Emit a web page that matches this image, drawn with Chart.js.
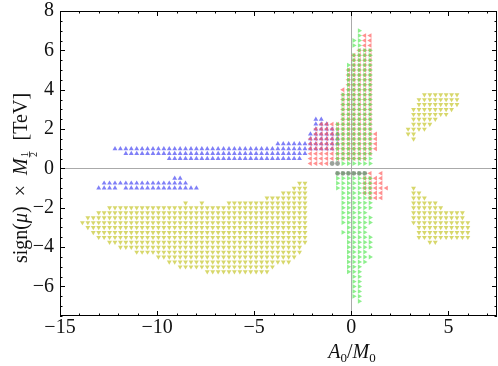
<!DOCTYPE html>
<html>
<head>
<meta charset="utf-8">
<script src="https://cdn.jsdelivr.net/npm/chart.js@4.4.0/dist/chart.umd.min.js"></script>
<style>
  html, body { margin: 0; padding: 0; background: #fff; }
  #wrap { width: 498px; height: 366px; }
</style>
</head>
<body>
<div id="wrap"><canvas id="grafico" width="498" height="366"></canvas></div>
<script>
// scan grid: A0/M0 columns and M1/2 rows (TeV)
const X0 = -0.43, DX = 0.2795;

const xTicks = [-15, -10, -5, 0, 5];
const yTicks = [-6, -4, -2, 0, 2, 4, 6, 8];

// rows: [M1/2, first A0/M0, last A0/M0]
const blueRows = [
  [2.5, -1.83, -1.55], [2.25, -1.83, -1.27], [2.0, -1.83, -0.99],
  [1.75, -2.11, -0.71], [1.5, -2.11, -0.71], [1.25, -3.78, -0.71],
  [1.0, -12.09, -0.99], [0.75, -11.52, -2.39], [0.5, -9.26, -2.8],
  [-0.5, -9.03, -8.74], [-0.75, -12.64, -8.43],
  [-1.0, -12.94, -12.1], [-1.0, -11.52, -7.91]
];

const redRows = [
  [6.75, 0.69, 0.97], [6.5, 0.69, 0.97], [6.25, 0.69, 0.97], [6.0, 0.41, 0.97],
  [5.75, 0.13, 0.97], [5.5, 0.13, 0.97], [5.25, 0.13, 0.97],
  [5.0, -0.15, 0.97], [4.75, -0.15, 0.97], [4.5, -0.15, 0.97], [4.25, -0.15, 0.97],
  [4.0, -0.43, 0.97], [3.75, -0.43, 0.97], [3.5, -0.43, 0.97], [3.25, -0.43, 0.97],
  [3.0, -0.43, 0.97], [2.75, -0.43, 0.97], [2.5, -0.43, 0.97],
  [2.25, -1.55, 0.97], [2.0, -1.83, 0.97], [1.75, -1.83, 1.25], [1.5, -2.11, 1.25],
  [1.25, -2.11, 1.25], [1.0, -2.11, 1.25], [0.75, -2.11, 0.97], [0.5, -2.11, 0.69],
  [0.25, -2.11, -1.27],
  [-0.25, 0.97, 0.97], [-0.25, 1.53, 1.53], [-0.5, 0.69, 1.53], [-0.75, 0.69, 1.53],
  [-1.0, 0.69, 1.81], [-1.25, 0.69, 1.53], [-1.5, 0.97, 1.53]
];

const greenRows = [
  [7.0, 0.41, 0.41], [6.75, 0.41, 0.41], [6.5, 0.13, 0.41], [6.25, 0.13, 0.41],
  [6.0, 0.41, 0.97], [5.75, 0.13, 0.97], [5.5, 0.13, 0.97], [5.25, -0.15, 0.97],
  [5.0, -0.15, 0.97], [4.75, -0.15, 0.97], [4.5, -0.15, 0.97], [4.25, -0.15, 0.97],
  [4.0, -0.15, 0.97], [3.75, -0.43, 0.97], [3.5, -0.43, 0.97], [3.25, -0.43, 0.97],
  [3.0, -0.43, 0.97], [2.75, -0.43, 0.97], [2.5, -0.43, 0.97],
  [2.25, -0.71, 0.97], [2.0, -0.71, 0.97], [1.75, -0.71, 0.97], [1.5, -0.71, 0.97],
  [1.25, -0.71, 0.97], [1.0, -0.71, 0.97], [0.75, -0.71, 0.97], [0.5, -0.71, 0.97],
  [0.25, -0.43, 0.97],
  [-0.25, -0.71, 0.69], [-0.5, -0.71, 0.97], [-0.75, -0.71, 0.97], [-1.0, -0.71, 0.97],
  [-1.25, -0.43, 0.97], [-1.5, -0.43, 0.97], [-1.75, -0.43, 0.97], [-2.0, -0.43, 0.97],
  [-2.25, -0.43, 0.69], [-2.5, -0.43, 0.97], [-2.75, -0.43, 0.97], [-3.0, -0.15, 0.69],
  [-3.25, -0.43, 0.69], [-3.5, -0.15, 0.97], [-3.75, -0.15, 0.97], [-4.0, -0.15, 0.97],
  [-4.25, -0.15, 0.69], [-4.5, -0.15, 0.97], [-4.75, -0.15, 0.69], [-5.0, -0.15, 0.41],
  [-5.25, -0.15, 0.41], [-5.5, 0.13, 0.41], [-5.75, 0.13, 0.41], [-6.0, 0.13, 0.41],
  [-6.25, 0.13, 0.41], [-6.5, 0.13, 0.41], [-6.75, 0.41, 0.41]
];

const grayRows = [
  [0.25, -0.99, -0.71], [-0.25, -0.71, 0.69]
];

const yellowRows = [
  // left lobe
  [-0.75, -2.67, -2.39], [-1.0, -2.95, -2.39], [-1.25, -3.51, -2.39], [-1.5, -4.35, -2.39],
  [-1.75, -8.54, -8.54], [-1.75, -7.7, -7.7], [-1.75, -6.3, -2.39],
  [-2.0, -12.45, -2.39], [-2.25, -13.01, -2.39], [-2.5, -13.57, -2.39], [-2.75, -13.85, -2.39],
  [-3.0, -13.57, -2.39], [-3.25, -13.29, -2.39], [-3.5, -13.01, -2.39], [-3.75, -12.45, -2.39],
  [-4.0, -11.9, -2.67], [-4.25, -10.95, -2.67], [-4.5, -9.85, -2.95], [-4.75, -9.29, -3.23],
  [-5.0, -8.72, -4.07], [-5.25, -7.42, -4.35],
  // right, positive mu
  [3.75, 3.75, 5.43], [3.5, 3.47, 5.43], [3.25, 3.47, 5.43], [3.0, 3.2, 5.16],
  [2.75, 3.2, 4.87], [2.5, 3.2, 4.31], [2.25, 3.2, 4.04], [2.0, 2.92, 3.75],
  [1.75, 2.92, 3.2], [1.5, 3.2, 3.2],
  // right, negative mu
  [-1.0, 3.2, 3.2], [-1.25, 3.2, 3.47], [-1.5, 3.2, 3.75], [-1.75, 3.2, 4.31],
  [-2.0, 3.2, 4.59], [-2.25, 3.2, 5.71], [-2.5, 3.2, 5.71], [-2.75, 3.2, 6.0],
  [-3.0, 3.47, 6.0], [-3.25, 3.47, 6.0], [-3.5, 3.47, 6.0], [-3.75, 4.04, 4.31]
];

function expand(rows) {
  const pts = [];
  rows.forEach(r => {
    const k0 = Math.round((r[1] - X0) / DX);
    const k1 = Math.round((r[2] - X0) / DX);
    for (let k = k0; k <= k1; k++) pts.push({x: X0 + k * DX, y: r[0]});
  });
  return pts;
}

const serif = '"Liberation Serif", "DejaVu Serif", serif';

function drawParts(ctx, parts, cx, cy) {
  const w = parts.map(p => { ctx.font = p.font; return p.frac ? 8 : ctx.measureText(p.t).width; });
  let x = cx - w.reduce((a, b) => a + b, 0) / 2;
  parts.forEach((p, i) => {
    ctx.font = p.font;
    if (p.frac) {
      ctx.textAlign = 'center';
      ctx.fillText('1', x + w[i] / 2, cy + 1);
      ctx.fillText('2', x + w[i] / 2, cy + 10);
      ctx.fillRect(x + 1, cy + 2, w[i] - 2, 0.8);
      ctx.textAlign = 'left';
    } else {
      ctx.fillText(p.t, x, cy + (p.dy || 0));
    }
    x += w[i];
  });
}

const marco = {
  id: 'marco',
  afterDraw(chart) {
    const {ctx, chartArea: a, scales: {x, y}} = chart;
    ctx.save();
    ctx.strokeStyle = '#000';
    ctx.lineWidth = 1;
    ctx.strokeRect(a.left + 0.5, a.top + 0.5, a.right - a.left - 1, a.bottom - a.top - 1);
    ctx.beginPath();
    for (let v = -15; v <= 7; v += 1) {
      const px = Math.round(x.getPixelForValue(v)) + 0.5;
      const len = xTicks.includes(v) ? 5 : 2.5;
      ctx.moveTo(px, a.bottom); ctx.lineTo(px, a.bottom - len);
      ctx.moveTo(px, a.top); ctx.lineTo(px, a.top + len);
    }
    for (let v = -7.5; v <= 8; v += 0.5) {
      const py = Math.round(y.getPixelForValue(v)) + 0.5;
      const len = yTicks.includes(v) ? 5 : 2.5;
      ctx.moveTo(a.left, py); ctx.lineTo(a.left + len, py);
      ctx.moveTo(a.right, py); ctx.lineTo(a.right - len, py);
    }
    ctx.stroke();

    ctx.fillStyle = '#111';
    ctx.textBaseline = 'alphabetic';
    ctx.textAlign = 'left';
    const it = 'italic 20px ' + serif, rm = '20px ' + serif, sb = '13px ' + serif;
    drawParts(ctx, [
      {t: 'A', font: it}, {t: '0', font: sb, dy: 4}, {t: '/', font: rm},
      {t: 'M', font: it}, {t: '0', font: sb, dy: 4}
    ], 352, 358);

    ctx.translate(27, 178);
    ctx.rotate(-Math.PI / 2);
    drawParts(ctx, [
      {t: 'sign(', font: rm}, {t: 'μ', font: it}, {t: ')\u2002×\u2002', font: rm},
      {t: 'M', font: it}, {frac: true, font: '10px ' + serif}, {t: '\u2002[TeV]', font: rm}
    ], 0, 0);
    ctx.restore();
  }
};

function serie(rows, color, style, rot) {
  return {
    data: expand(rows),
    pointStyle: style,
    rotation: rot,
    pointRadius: style === 'circle' ? 2.4 : 2.8,
    borderWidth: 0,
    backgroundColor: color,
    borderColor: color
  };
}

const fmt = v => v < 0 ? '\u2212' + Math.abs(v) : String(v);
const noPad = s => { s.paddingTop = 0; s.paddingBottom = 0; s.paddingLeft = 0; s.paddingRight = 0; };

new Chart(document.getElementById('grafico'), {
  type: 'scatter',
  data: {
    datasets: [
      serie(grayRows, 'rgba(120, 130, 120, 0.75)', 'circle', 0),
      serie(greenRows, 'rgba(80, 230, 80, 0.65)', 'triangle', 90),
      serie(redRows, 'rgba(255, 85, 85, 0.65)', 'triangle', -90),
      serie(blueRows, 'rgba(95, 95, 245, 0.8)', 'triangle', 0),
      serie(yellowRows, 'rgba(205, 205, 70, 0.8)', 'triangle', 180)
    ]
  },
  options: {
    responsive: false,
    animation: false,
    events: [],
    layout: {autoPadding: false, padding: {top: 11, right: 1, left: 0, bottom: 0}},
    plugins: {legend: {display: false}, tooltip: {enabled: false}},
    scales: {
      x: {
        type: 'linear', min: -15, max: 7.5,
        afterFit: s => { s.height = 50; noPad(s); },
        afterBuildTicks: s => { s.ticks = xTicks.map(v => ({value: v})); },
        grid: {drawTicks: false, color: c => c.tick && c.tick.value === 0 ? '#aaa' : 'rgba(0,0,0,0)'},
        border: {display: false},
        ticks: {padding: 0, color: '#111', font: {family: serif, size: 20}, callback: fmt, maxRotation: 0}
      },
      y: {
        type: 'linear', min: -7.5, max: 8,
        afterFit: s => { s.width = 60; noPad(s); },
        afterBuildTicks: s => { s.ticks = yTicks.map(v => ({value: v})); },
        grid: {drawTicks: false, color: c => c.tick && c.tick.value === 0 ? '#aaa' : 'rgba(0,0,0,0)'},
        border: {display: false},
        ticks: {padding: 6, color: '#111', font: {family: serif, size: 20}, callback: fmt}
      }
    }
  },
  plugins: [marco]
});
</script>
</body>
</html>
